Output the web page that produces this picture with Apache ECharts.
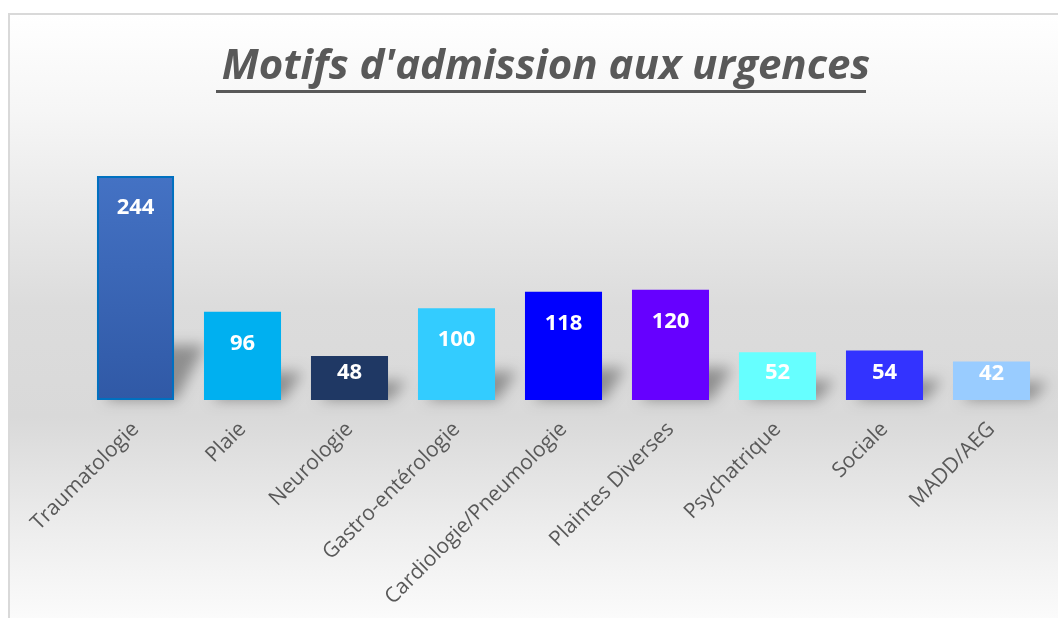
<!DOCTYPE html>
<html>
<head>
<meta charset="utf-8">
<script src="https://cdn.jsdelivr.net/npm/echarts@6/dist/echarts.min.js"></script>
<style>
  html, body { margin: 0; padding: 0; background: #fff; }
  #chart { width: 1058px; height: 618px; }
</style>
</head>
<body>
<div id="chart"></div>
<script>
// données
const categories = ['Traumatologie', 'Plaie', 'Neurologie', 'Gastro-entérologie', 'Cardiologie/Pneumologie',
  'Plaintes Diverses', 'Psychatrique', 'Sociale', 'MADD/AEG']
const values = [244, 96, 48, 100, 118, 120, 52, 54, 42]
const barColors = ['#4472C4', '#00B0F0', '#1F3864', '#33CCFF', '#0000FF', '#6600FF', '#66FFFF', '#3333FF', '#99CCFF']

const gridTop = 176
const gridBottom = 218
const yMax = 244
const pxPerUnit = (618 - gridTop - gridBottom) / yMax

const chart = echarts.init(document.getElementById('chart'))

const barData = values.map((v, i) => {
  // comme Excel : l'étiquette remonte quand la barre est courte
  const h = v * pxPerUnit
  const item = {
    value: v,
    itemStyle: { color: barColors[i] },
    label: { distance: Math.max(1, Math.min(21, h - 38)) }
  }
  if (i === 0) {
    item.itemStyle = {
      color: new echarts.graphic.LinearGradient(0, 0, 0, 1, [
        { offset: 0, color: '#4472C4' },
        { offset: 1, color: '#3059A6' }
      ]),
      borderColor: '#0070C0',
      borderWidth: 2
    }
  }
  return item
})

const OFF = 3000

chart.setOption({
  animation: false,
  graphic: [
    {
      type: 'rect',
      z: -10,
      shape: { x: 9, y: 14, width: 1100, height: 650 },
      style: {
        fill: new echarts.graphic.LinearGradient(0, 0, 0, 1, [
          { offset: 0, color: '#ffffff' },
          { offset: 0.15, color: '#f6f6f6' },
          { offset: 0.45, color: '#dcdcdc' },
          { offset: 0.62, color: '#d9d9d9' },
          { offset: 0.8, color: '#eeeeee' },
          { offset: 0.95, color: '#fdfdfd' },
          { offset: 1, color: '#ffffff' }
        ]),
        stroke: '#d9d9d9',
        lineWidth: 2
      }
    },
    {
      // soulignement du titre
      type: 'rect',
      shape: { x: 216, y: 90, width: 650, height: 3 },
      style: { fill: '#595959' }
    }
  ],
  title: {
    text: "Motifs d'admission aux urgences",
    left: 541,
    textAlign: 'center',
    top: 41,
    textStyle: {
      fontFamily: 'Open Sans',
      fontStyle: 'italic',
      fontWeight: 'bold',
      fontSize: 42,
      color: '#595959'
    }
  },
  grid: {
    left: 82,
    right: 13,
    top: gridTop,
    bottom: gridBottom
  },
  xAxis: {
    type: 'category',
    data: categories,
    axisLine: { show: false },
    axisTick: { show: false },
    axisLabel: {
      rotate: 45,
      margin: 26,
      interval: 0,
      fontFamily: 'Open Sans',
      fontSize: 21,
      color: '#595959'
    }
  },
  yAxis: {
    type: 'value',
    min: 0,
    max: yMax,
    show: false,
    splitLine: { show: false }
  },
  series: [
    {
      // ombre portée au pied des barres (forme hors champ, seule l'ombre floue est visible)
      type: 'custom',
      z: 1,
      silent: true,
      clip: false,
      data: values.map((v, i) => [i, v]),
      renderItem(params, api) {
        const base = api.coord([api.value(0), 0])
        const top = api.coord([api.value(0), api.value(1)])
        const w = api.size([1, 0])[0] * 0.72
        const h = base[1] - top[1]
        const x0 = base[0] - w / 2 - OFF
        const sh = 10 + h * 0.2
        const skew = 12 + sh * 0.35
        return {
          type: 'polygon',
          shape: {
            points: [
              [x0 + 8, base[1]],
              [x0 + w + 2, base[1]],
              [x0 + w + skew, base[1] - sh],
              [x0 + 8 + skew, base[1] - sh]
            ]
          },
          style: {
            fill: '#000',
            shadowBlur: 14,
            shadowOffsetX: OFF,
            shadowColor: 'rgba(0,0,0,0.35)'
          }
        }
      }
    },
    {
      type: 'bar',
      z: 2,
      barCategoryGap: '28%',
      data: barData,
      label: {
        show: true,
        position: 'insideTop',
        distance: 21,
        fontFamily: 'Open Sans',
        fontWeight: 'bold',
        fontSize: 22,
        color: '#ffffff'
      }
    }
  ]
})
</script>
</body>
</html>
